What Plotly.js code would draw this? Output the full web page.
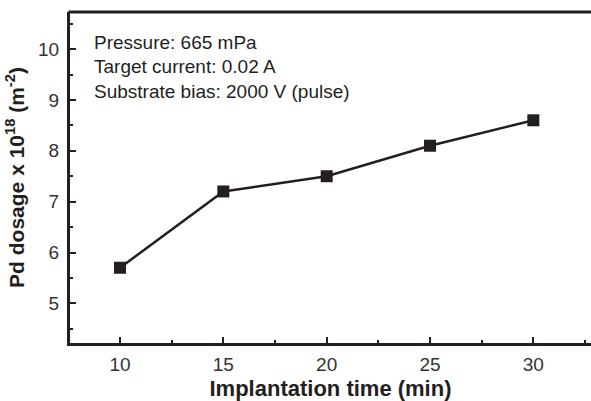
<!DOCTYPE html>
<html><head><meta charset="utf-8">
<script src="https://cdn.plot.ly/plotly-3.0.1.min.js"></script>
<style>body{margin:0;background:#fff}#c{width:591px;height:401px}</style>
</head><body><div id="c"></div>
<script>
const times = [10, 15, 20, 25, 30];
const dosage = [5.7, 7.2, 7.5, 8.1, 8.6];
const xTicks = [10, 15, 20, 25, 30];
const yTicks = [5, 6, 7, 8, 9, 10];
const notes = ["Pressure: 665 mPa", "Target current: 0.02 A", "Substrate bias: 2000 V (pulse)"];

const ink = '#231f20';
const fam = 'Liberation Sans, Arial, sans-serif';
const trace = {
  x: times, y: dosage, mode: 'lines+markers', type: 'scatter',
  line: {color: ink, width: 2.5},
  marker: {symbol: 'square', size: 12, color: ink}
};
const notePix = [42, 66.5, 91];
const layout = {
  width: 591, height: 401,
  margin: {l: 70, r: 0, t: 12, b: 58},
  paper_bgcolor: '#fff', plot_bgcolor: '#fff',
  showlegend: false,
  font: {family: fam, color: ink},
  xaxis: {
    range: [7.58, 32.79], tickvals: xTicks, ticks: 'inside', ticklen: 6, tickwidth: 2, tickcolor: ink,
    minor: {dtick: 2.5, tick0: 0, ticks: 'inside', ticklen: 3, tickwidth: 2, tickcolor: ink},
    showline: true, linewidth: 3, linecolor: ink, showgrid: false, zeroline: false,
    ticklabelstandoff: 2,
    tickfont: {size: 19, family: fam, color: '#333'},
    title: {text: '<b>Implantation time (min)</b>', font: {size: 22, family: fam, color: ink}, standoff: 10}
  },
  yaxis: {
    range: [4.22, 10.73], tickvals: yTicks, ticks: 'inside', ticklen: 6, tickwidth: 2, tickcolor: ink,
    minor: {dtick: 0.5, tick0: 0, ticks: 'inside', ticklen: 3, tickwidth: 2, tickcolor: ink},
    showline: true, linewidth: 3, linecolor: ink, showgrid: false, zeroline: false,
    ticklabelstandoff: 4,
    tickfont: {size: 19, family: fam, color: '#333'},
    title: {text: '<b>Pd dosage x 10<sup>18</sup> (m<sup>-2</sup>)</b>', font: {size: 21, family: fam, color: ink}, standoff: 8}
  },
  shapes: [{type: 'line', xref: 'paper', yref: 'paper', x0: -0.003, x1: 1, y0: 1, y1: 1, line: {color: ink, width: 3}}],
  annotations: notes.map((t, i) => ({
    text: t, xref: 'paper', yref: 'paper', x: 0.042, y: 1 - (notePix[i] - 12) / 331,
    xanchor: 'left', yanchor: 'middle', showarrow: false,
    font: {size: 19, family: fam, color: ink}
  }))
};
Plotly.newPlot('c', [trace], layout, {displayModeBar: false, staticPlot: true});
</script></body></html>
